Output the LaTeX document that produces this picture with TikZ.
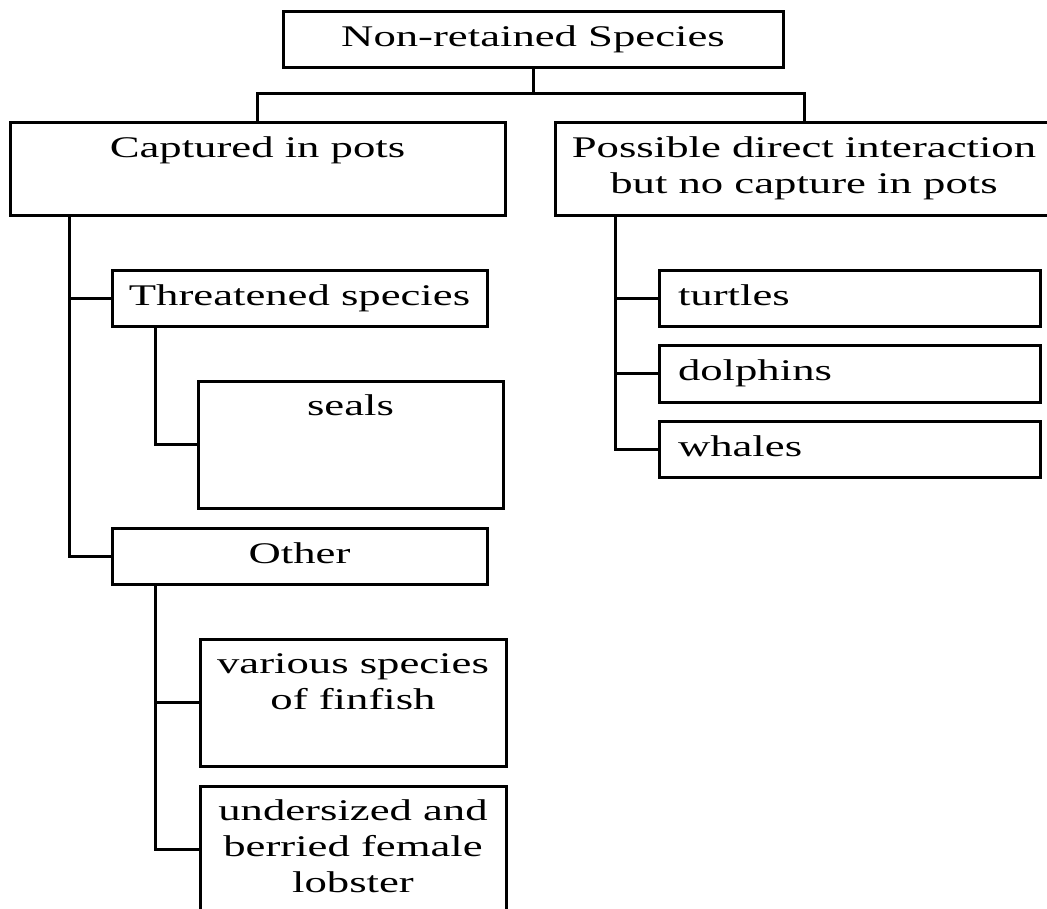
\documentclass[tikz,border=0pt]{standalone}
\usepackage{fontspec}
\setmainfont{Liberation Serif}[FakeStretch=1.49]
\usetikzlibrary{calc}
\begin{document}
\begin{tikzpicture}[x=1pt,y=-1pt,
  box/.style={draw, line width=3pt, rectangle, inner sep=0pt,
    font=\fontsize{30}{36}\selectfont, align=center},
  lbox/.style={box, align=left, inner xsep=19pt, text width=343pt},
  conn/.style={line width=3pt}]
\useasboundingbox (0,0) rectangle (1047,908);
\clip (0,0) rectangle (1047,908);
% boxes
\node[box, minimum width=500pt, minimum height=56pt] (root) at (533,39) {\strut Non-retained Species};
\node[box, minimum width=495pt, minimum height=93pt] (cap) at (257.5,168.5) {\strut Captured in pots\\\strut};
\node[box, minimum width=498pt, minimum height=93pt] (pos) at (804,168.5) {\strut Possible direct interaction\\\strut but no capture in pots};
\node[box, minimum width=375pt, minimum height=56pt] (threat) at (299.5,298) {\strut Threatened species};
\node[box, minimum width=305pt, minimum height=127pt] (seals) at (350.5,444.5) {\strut seals\\\strut\\\strut};
\node[box, minimum width=375pt, minimum height=56pt] (other) at (299.5,556) {\strut Other};
\node[box, minimum width=306pt, minimum height=127pt] (fin) at (353,702.5) {\strut various species\\\strut of finfish\\\strut};
\node[box, minimum width=306pt, minimum height=127pt] (lob) at (353,849.5) {\strut undersized and\\\strut berried female\\\strut lobster};
\node[lbox, minimum width=381pt, minimum height=56pt] (turt) at (849.5,298) {\strut turtles};
\node[lbox, minimum width=381pt, minimum height=57pt] (dol) at (849.5,373.5) {\strut dolphins};
\node[lbox, minimum width=381pt, minimum height=56pt] (wha) at (849.5,449) {\strut whales};
% connectors
\path (cap.north) ++(0,-27) coordinate (busL);
\path (pos.north) ++(0,-27) coordinate (busR);
\draw[conn] (cap.north) -- (busL) -- (busR) -- (pos.north);
\draw[conn] (root.south) -- (root.south |- busL);
\coordinate (capT) at ($(cap.south west)+(61,0)$);
\draw[conn] (capT) |- (threat.west);
\draw[conn] (capT) |- (other.west);
\coordinate (thrT) at ($(threat.south west)+(45,0)$);
\draw[conn] (thrT) |- (seals.west);
\coordinate (othT) at ($(other.south west)+(45,0)$);
\draw[conn] (othT) |- (fin.west);
\draw[conn] (othT) |- (lob.west);
\coordinate (posT) at ($(pos.south west)+(62,0)$);
\draw[conn] (posT) |- (turt.west);
\draw[conn] (posT) |- (dol.west);
\draw[conn] (posT) |- (wha.west);
\end{tikzpicture}
\end{document}
